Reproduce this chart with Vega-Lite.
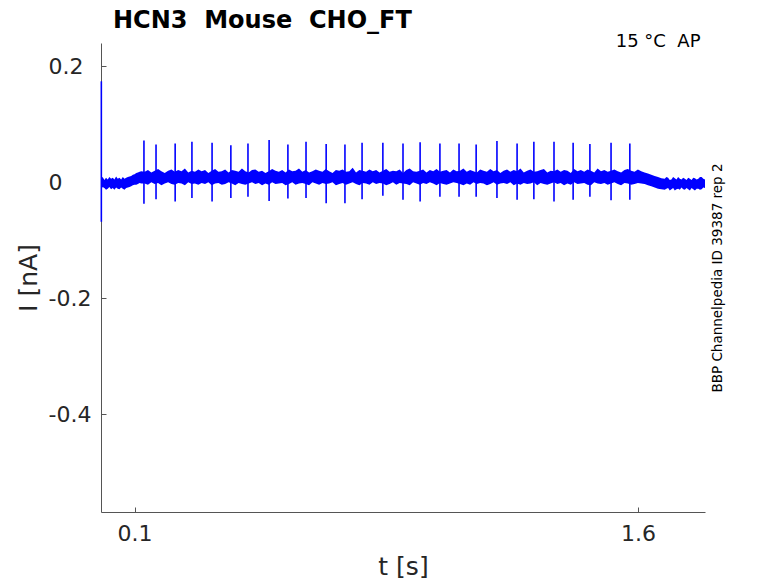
{
  "$schema": "https://vega.github.io/schema/vega-lite/v6.json",
  "width": 604,
  "height": 469,
  "autosize": {"type": "none"},
  "padding": {"left": 101, "top": 43, "right": 73, "bottom": 71},
  "background": "white",
  "title": {
    "text": "HCN3\u00a0\u00a0Mouse\u00a0\u00a0CHO_FT",
    "anchor": "start",
    "frame": "group",
    "dx": 12,
    "offset": -20,
    "baseline": "alphabetic",
    "font": "DejaVu Sans",
    "fontSize": 24,
    "fontWeight": "bold",
    "color": "#000000"
  },
  "datasets": {
    "band": [
      {"t":0.00,"lo":-0.012,"hi":0.006},{"t":0.005,"lo":-0.008,"hi":0.009},{"t":0.01,"lo":-0.010,"hi":0.004},{"t":0.015,"lo":-0.013,"hi":0.008},{"t":0.02,"lo":-0.011,"hi":0.005},{"t":0.025,"lo":-0.008,"hi":0.009},{"t":0.03,"lo":-0.012,"hi":0.006},
      {"t":0.035,"lo":-0.010,"hi":0.008},{"t":0.04,"lo":-0.013,"hi":0.005},{"t":0.045,"lo":-0.009,"hi":0.010},{"t":0.05,"lo":-0.011,"hi":0.006},{"t":0.055,"lo":-0.012,"hi":0.008},{"t":0.06,"lo":-0.009,"hi":0.005},
      {"t":0.065,"lo":-0.011,"hi":0.009},{"t":0.07,"lo":-0.013,"hi":0.006},{"t":0.075,"lo":-0.010,"hi":0.008},{"t":0.08,"lo":-0.009,"hi":0.009},{"t":0.085,"lo":-0.008,"hi":0.010},{"t":0.09,"lo":-0.007,"hi":0.011},
      {"t":0.095,"lo":-0.005,"hi":0.013},{"t":0.10,"lo":-0.004,"hi":0.014},{"t":0.105,"lo":-0.004,"hi":0.016},{"t":0.11,"lo":-0.003,"hi":0.017},{"t":0.115,"lo":-0.001,"hi":0.018},{"t":0.12,"lo":-0.002,"hi":0.019},
      {"t":0.13,"lo":-0.002,"hi":0.018},{"t":0.14,"lo":-0.004,"hi":0.021},{"t":0.15,"lo":0.000,"hi":0.017},{"t":0.16,"lo":-0.003,"hi":0.020},
      {"t":0.17,"lo":-0.001,"hi":0.023},{"t":0.18,"lo":-0.005,"hi":0.019},{"t":0.19,"lo":-0.002,"hi":0.016},{"t":0.20,"lo":0.000,"hi":0.020},
      {"t":0.21,"lo":-0.003,"hi":0.022},{"t":0.22,"lo":-0.004,"hi":0.018},{"t":0.23,"lo":-0.001,"hi":0.021},{"t":0.24,"lo":-0.002,"hi":0.019},
      {"t":0.25,"lo":-0.005,"hi":0.024},{"t":0.26,"lo":0.000,"hi":0.017},{"t":0.27,"lo":-0.003,"hi":0.020},{"t":0.28,"lo":-0.002,"hi":0.018},
      {"t":0.29,"lo":-0.004,"hi":0.022},{"t":0.30,"lo":-0.001,"hi":0.019},{"t":0.31,"lo":-0.003,"hi":0.021},{"t":0.32,"lo":0.000,"hi":0.016},
      {"t":0.33,"lo":-0.005,"hi":0.020},{"t":0.34,"lo":-0.002,"hi":0.023},{"t":0.35,"lo":-0.001,"hi":0.018},{"t":0.36,"lo":-0.004,"hi":0.019},
      {"t":0.37,"lo":-0.003,"hi":0.022},{"t":0.38,"lo":0.000,"hi":0.017},{"t":0.39,"lo":-0.002,"hi":0.021},{"t":0.40,"lo":-0.005,"hi":0.020},
      {"t":0.41,"lo":-0.001,"hi":0.018},{"t":0.42,"lo":-0.003,"hi":0.024},{"t":0.43,"lo":-0.004,"hi":0.019},{"t":0.44,"lo":-0.002,"hi":0.017},
      {"t":0.45,"lo":0.000,"hi":0.021},{"t":0.46,"lo":-0.003,"hi":0.022},{"t":0.47,"lo":-0.001,"hi":0.018},{"t":0.48,"lo":-0.005,"hi":0.020},
      {"t":0.49,"lo":-0.002,"hi":0.016},{"t":0.50,"lo":-0.004,"hi":0.019},{"t":0.51,"lo":0.000,"hi":0.023},{"t":0.52,"lo":-0.003,"hi":0.020},
      {"t":0.53,"lo":-0.002,"hi":0.018},{"t":0.54,"lo":-0.001,"hi":0.021},{"t":0.55,"lo":-0.005,"hi":0.017},{"t":0.56,"lo":-0.003,"hi":0.022},
      {"t":0.57,"lo":0.000,"hi":0.019},{"t":0.58,"lo":-0.004,"hi":0.020},{"t":0.59,"lo":-0.002,"hi":0.024},{"t":0.60,"lo":-0.001,"hi":0.018},
      {"t":0.61,"lo":-0.003,"hi":0.021},{"t":0.62,"lo":-0.005,"hi":0.017},{"t":0.63,"lo":0.000,"hi":0.019},{"t":0.64,"lo":-0.002,"hi":0.022},
      {"t":0.65,"lo":-0.004,"hi":0.020},{"t":0.66,"lo":-0.001,"hi":0.018},{"t":0.67,"lo":-0.003,"hi":0.023},{"t":0.68,"lo":-0.002,"hi":0.019},
      {"t":0.69,"lo":0.000,"hi":0.016},{"t":0.70,"lo":-0.005,"hi":0.021},{"t":0.71,"lo":-0.003,"hi":0.020},{"t":0.72,"lo":-0.001,"hi":0.022},
      {"t":0.73,"lo":-0.004,"hi":0.018},{"t":0.74,"lo":-0.002,"hi":0.019},{"t":0.75,"lo":0.000,"hi":0.025},{"t":0.76,"lo":-0.003,"hi":0.017},
      {"t":0.77,"lo":-0.005,"hi":0.021},{"t":0.78,"lo":-0.001,"hi":0.020},{"t":0.79,"lo":-0.002,"hi":0.018},{"t":0.80,"lo":-0.004,"hi":0.022},
      {"t":0.81,"lo":0.000,"hi":0.019},{"t":0.82,"lo":-0.003,"hi":0.021},{"t":0.83,"lo":-0.001,"hi":0.017},{"t":0.84,"lo":-0.002,"hi":0.020},
      {"t":0.85,"lo":-0.005,"hi":0.023},{"t":0.86,"lo":-0.003,"hi":0.018},{"t":0.87,"lo":0.000,"hi":0.020},{"t":0.88,"lo":-0.004,"hi":0.019},
      {"t":0.89,"lo":-0.001,"hi":0.022},{"t":0.90,"lo":-0.002,"hi":0.016},{"t":0.91,"lo":-0.003,"hi":0.021},{"t":0.92,"lo":-0.005,"hi":0.024},
      {"t":0.93,"lo":0.000,"hi":0.019},{"t":0.94,"lo":-0.002,"hi":0.018},{"t":0.95,"lo":-0.004,"hi":0.020},{"t":0.96,"lo":-0.001,"hi":0.022},
      {"t":0.97,"lo":-0.003,"hi":0.017},{"t":0.98,"lo":0.000,"hi":0.021},{"t":0.99,"lo":-0.002,"hi":0.019},{"t":1.00,"lo":-0.005,"hi":0.023},
      {"t":1.01,"lo":-0.001,"hi":0.018},{"t":1.02,"lo":-0.003,"hi":0.020},{"t":1.03,"lo":-0.004,"hi":0.021},{"t":1.04,"lo":-0.002,"hi":0.017},
      {"t":1.05,"lo":0.000,"hi":0.022},{"t":1.06,"lo":-0.001,"hi":0.019},{"t":1.07,"lo":-0.003,"hi":0.020},{"t":1.08,"lo":-0.005,"hi":0.024},
      {"t":1.09,"lo":-0.002,"hi":0.018},{"t":1.10,"lo":-0.004,"hi":0.021},{"t":1.11,"lo":0.000,"hi":0.019},{"t":1.12,"lo":-0.003,"hi":0.017},
      {"t":1.13,"lo":-0.001,"hi":0.022},{"t":1.14,"lo":-0.002,"hi":0.020},{"t":1.15,"lo":-0.005,"hi":0.018},{"t":1.16,"lo":-0.003,"hi":0.023},
      {"t":1.17,"lo":0.000,"hi":0.019},{"t":1.18,"lo":-0.004,"hi":0.021},{"t":1.19,"lo":-0.002,"hi":0.016},{"t":1.20,"lo":-0.001,"hi":0.020},
      {"t":1.21,"lo":-0.003,"hi":0.022},{"t":1.22,"lo":0.000,"hi":0.018},{"t":1.23,"lo":-0.005,"hi":0.021},{"t":1.24,"lo":-0.002,"hi":0.019},
      {"t":1.25,"lo":-0.004,"hi":0.024},{"t":1.26,"lo":-0.001,"hi":0.017},{"t":1.27,"lo":-0.003,"hi":0.020},{"t":1.28,"lo":-0.002,"hi":0.022},
      {"t":1.29,"lo":0.000,"hi":0.018},{"t":1.30,"lo":-0.005,"hi":0.019},{"t":1.31,"lo":-0.001,"hi":0.021},{"t":1.32,"lo":-0.003,"hi":0.023},
      {"t":1.33,"lo":-0.004,"hi":0.017},{"t":1.34,"lo":-0.002,"hi":0.020},{"t":1.35,"lo":0.000,"hi":0.019},{"t":1.36,"lo":-0.003,"hi":0.022},
      {"t":1.37,"lo":-0.001,"hi":0.018},{"t":1.38,"lo":-0.005,"hi":0.021},{"t":1.39,"lo":-0.002,"hi":0.020},{"t":1.40,"lo":-0.004,"hi":0.016},
      {"t":1.41,"lo":0.000,"hi":0.023},{"t":1.42,"lo":-0.003,"hi":0.019},{"t":1.43,"lo":-0.002,"hi":0.021},{"t":1.44,"lo":-0.001,"hi":0.018},
      {"t":1.45,"lo":-0.004,"hi":0.022},{"t":1.46,"lo":-0.005,"hi":0.020},{"t":1.47,"lo":0.000,"hi":0.017},{"t":1.48,"lo":-0.002,"hi":0.024},
      {"t":1.49,"lo":-0.003,"hi":0.019},{"t":1.50,"lo":-0.001,"hi":0.021},{"t":1.51,"lo":-0.004,"hi":0.018},{"t":1.52,"lo":-0.002,"hi":0.020},
      {"t":1.53,"lo":0.000,"hi":0.022},{"t":1.54,"lo":-0.003,"hi":0.019},{"t":1.55,"lo":-0.005,"hi":0.017},{"t":1.56,"lo":-0.001,"hi":0.021},
      {"t":1.57,"lo":-0.002,"hi":0.023},{"t":1.58,"lo":-0.004,"hi":0.020},{"t":1.59,"lo":-0.003,"hi":0.018},{"t":1.60,"lo":-0.001,"hi":0.022},
      {"t":1.61,"lo":-0.002,"hi":0.019},
      {"t":1.62,"lo":-0.003,"hi":0.017},{"t":1.63,"lo":-0.005,"hi":0.015},{"t":1.64,"lo":-0.007,"hi":0.013},{"t":1.65,"lo":-0.009,"hi":0.011},
      {"t":1.66,"lo":-0.011,"hi":0.009},{"t":1.67,"lo":-0.012,"hi":0.007},
      {"t":1.68,"lo":-0.013,"hi":0.006},{"t":1.685,"lo":-0.011,"hi":0.009},{"t":1.69,"lo":-0.010,"hi":0.008},{"t":1.695,"lo":-0.014,"hi":0.004},{"t":1.70,"lo":-0.012,"hi":0.005},{"t":1.705,"lo":-0.010,"hi":0.009},{"t":1.71,"lo":-0.014,"hi":0.007},
      {"t":1.715,"lo":-0.012,"hi":0.005},{"t":1.72,"lo":-0.011,"hi":0.009},{"t":1.725,"lo":-0.013,"hi":0.006},{"t":1.73,"lo":-0.009,"hi":0.005},{"t":1.735,"lo":-0.012,"hi":0.008},{"t":1.74,"lo":-0.013,"hi":0.006},{"t":1.745,"lo":-0.010,"hi":0.004},{"t":1.75,"lo":-0.012,"hi":0.008},
      {"t":1.755,"lo":-0.014,"hi":0.006},{"t":1.76,"lo":-0.010,"hi":0.004},{"t":1.765,"lo":-0.012,"hi":0.008},{"t":1.77,"lo":-0.014,"hi":0.007},{"t":1.775,"lo":-0.011,"hi":0.005},{"t":1.78,"lo":-0.011,"hi":0.006},{"t":1.785,"lo":-0.013,"hi":0.009},{"t":1.79,"lo":-0.012,"hi":0.009},
      {"t":1.795,"lo":-0.009,"hi":0.006},{"t":1.80,"lo":-0.010,"hi":0.005}
    ],
    "spikes": [
      {"t":0.001,"lo":-0.068,"hi":0.174},
      {"t":0.128,"lo":-0.037,"hi":0.072},{"t":0.164,"lo":-0.029,"hi":0.065},{"t":0.221,"lo":-0.033,"hi":0.067},
      {"t":0.271,"lo":-0.027,"hi":0.070},{"t":0.331,"lo":-0.033,"hi":0.068},{"t":0.387,"lo":-0.027,"hi":0.064},
      {"t":0.438,"lo":-0.025,"hi":0.067},{"t":0.501,"lo":-0.032,"hi":0.073},{"t":0.557,"lo":-0.028,"hi":0.065},
      {"t":0.611,"lo":-0.027,"hi":0.070},{"t":0.671,"lo":-0.036,"hi":0.066},{"t":0.727,"lo":-0.036,"hi":0.065},
      {"t":0.778,"lo":-0.029,"hi":0.068},{"t":0.840,"lo":-0.023,"hi":0.068},{"t":0.900,"lo":-0.030,"hi":0.067},
      {"t":0.951,"lo":-0.033,"hi":0.069},{"t":1.010,"lo":-0.025,"hi":0.067},{"t":1.067,"lo":-0.025,"hi":0.067},
      {"t":1.118,"lo":-0.025,"hi":0.065},{"t":1.180,"lo":-0.027,"hi":0.071},{"t":1.240,"lo":-0.030,"hi":0.067},
      {"t":1.290,"lo":-0.029,"hi":0.070},{"t":1.350,"lo":-0.033,"hi":0.070},{"t":1.407,"lo":-0.030,"hi":0.068},
      {"t":1.457,"lo":-0.025,"hi":0.066},{"t":1.520,"lo":-0.031,"hi":0.068},{"t":1.576,"lo":-0.030,"hi":0.067}
    ]
  },
  "layer": [
    {
      "data": {"name": "band"},
      "mark": {"type": "area", "color": "#0000ff", "opacity": 1},
      "encoding": {
        "x": {
          "field": "t", "type": "quantitative",
          "scale": {"domain": [0, 1.8], "nice": false, "zero": false},
          "axis": {
            "orient": "bottom", "values": [0.1, 1.6], "grid": false,
            "labelExpr": "replace(format(datum.value, '.1f'), '\u2212', '-')",
            "labelFlush": false, "labelFont": "DejaVu Sans", "labelFontSize": 22, "labelColor": "#262626",
            "labelPadding": 16, "tickSize": -5, "tickColor": "#555555", "domainColor": "#555555", "domainWidth": 1,
            "title": "t [s]", "titleFont": "DejaVu Sans", "titleFontSize": 25, "titleFontWeight": "normal",
            "titleColor": "#262626", "titlePadding": 10
          }
        },
        "y": {
          "field": "lo", "type": "quantitative",
          "scale": {"domain": [-0.568, 0.240], "nice": false, "zero": false},
          "axis": {
            "orient": "left", "values": [-0.4, -0.2, 0, 0.2], "grid": false,
            "labelExpr": "datum.value === 0 ? '0' : replace(format(datum.value, '.1f'), '\u2212', '-')",
            "labelAlign": "left", "labelBaseline": "middle",
            "labelFont": "DejaVu Sans", "labelFontSize": 22, "labelColor": "#262626",
            "labelPadding": 58, "tickSize": -5, "tickColor": "#555555", "domainColor": "#555555", "domainWidth": 1,
            "title": "I [nA]", "titleFont": "DejaVu Sans", "titleFontSize": 25, "titleFontWeight": "normal",
            "titleColor": "#262626", "titlePadding": 7
          }
        },
        "y2": {"field": "hi"}
      }
    },
    {
      "data": {"name": "spikes"},
      "mark": {"type": "rule", "color": "#0000ff", "strokeWidth": 1.6},
      "encoding": {
        "x": {
          "field": "t", "type": "quantitative",
          "scale": {"domain": [0, 1.8], "nice": false, "zero": false},
          "axis": {
            "orient": "top", "labels": false, "ticks": false, "domain": false, "grid": false,
            "title": "15 °C\u00a0\u00a0AP", "titleFont": "DejaVu Sans", "titleFontSize": 18, "titleFontWeight": "normal",
            "titleColor": "#000000", "titleAnchor": "end", "titleAlign": "right", "titleBaseline": "alphabetic",
            "titleX": 599, "titleY": 3
          }
        },
        "y": {
          "field": "lo", "type": "quantitative",
          "scale": {"domain": [-0.568, 0.240], "nice": false, "zero": false},
          "axis": {
            "orient": "right", "labels": false, "ticks": false, "domain": false, "grid": false,
            "title": "BBP Channelpedia ID 39387 rep 2", "titleFont": "DejaVu Sans", "titleFontSize": 13.5,
            "titleFontWeight": "normal", "titleColor": "#000000", "titleAngle": 270, "titleBaseline": "top",
            "titlePadding": 5
          }
        },
        "y2": {"field": "hi"}
      }
    }
  ],
  "resolve": {"axis": {"x": "independent", "y": "independent"}},
  "config": {"view": {"stroke": null}, "font": "DejaVu Sans"}
}
